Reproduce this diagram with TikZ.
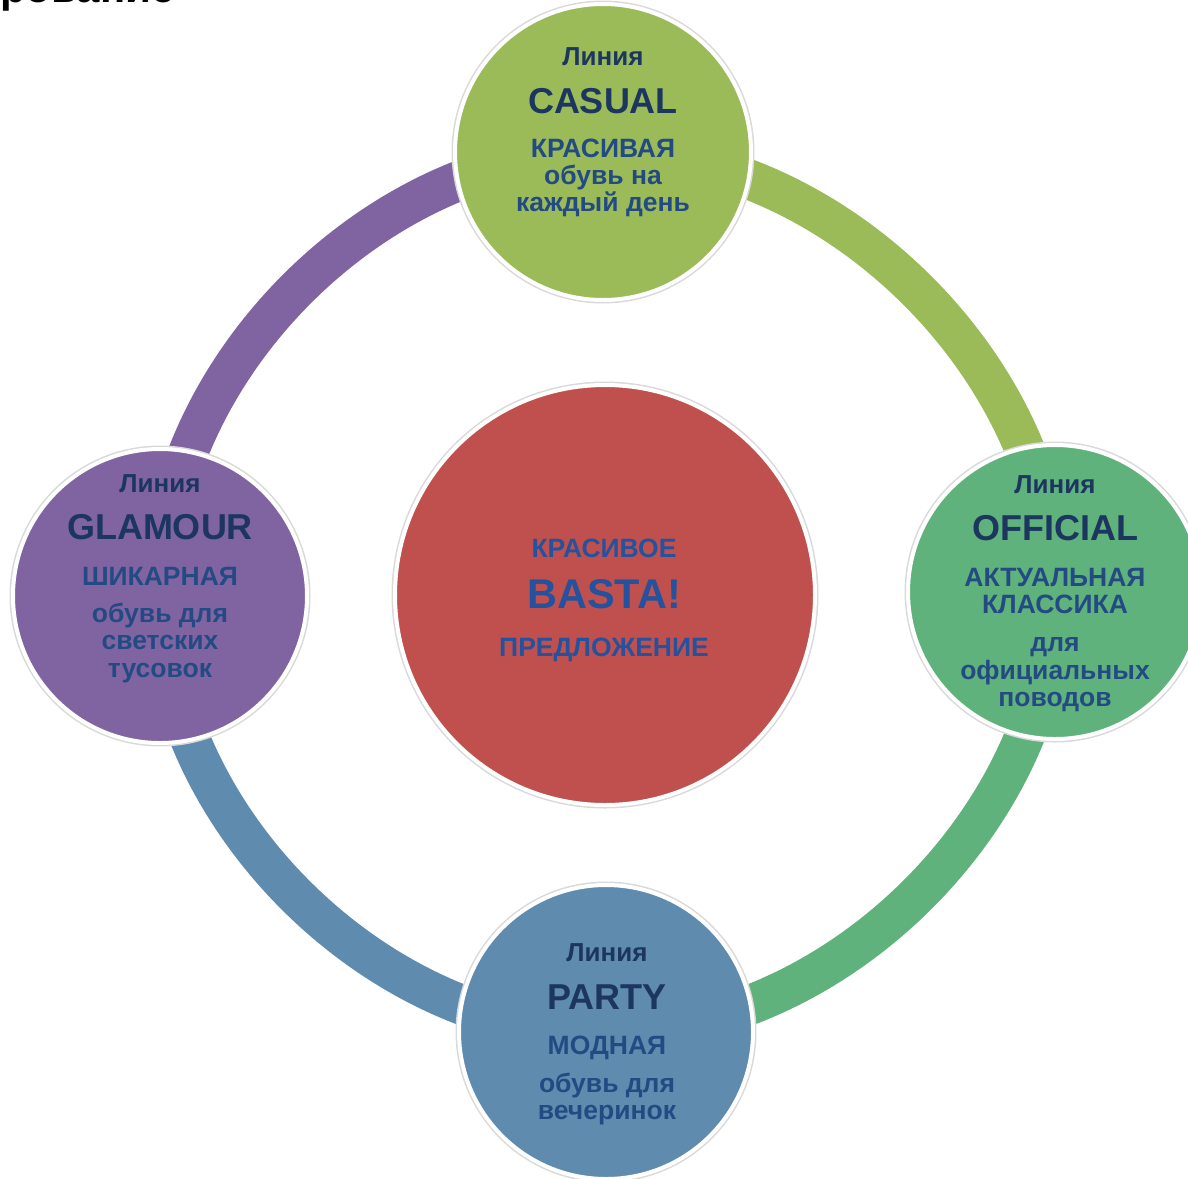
\documentclass[tikz,border=0pt]{standalone}
\usepackage{fontspec}
\setmainfont{Liberation Sans}
\usetikzlibrary{backgrounds}

\definecolor{casualgreen}{RGB}{155,187,89}
\definecolor{officialgreen}{RGB}{95,178,123}
\definecolor{partyblue}{RGB}{94,139,174}
\definecolor{glamourpurple}{RGB}{128,100,162}
\definecolor{bastared}{RGB}{192,80,77}
\definecolor{navy}{RGB}{28,54,96}
\definecolor{textblue}{RGB}{36,74,132}
\definecolor{centreblue}{RGB}{36,82,158}

\begin{document}
\begin{tikzpicture}[x=1pt, y=-1pt,
    blob/.style={circle, inner sep=0pt, draw=white, line width=4pt, preaction={draw=black!15, line width=7pt}},
    ring/.style={line width=40pt, bend left=45, looseness=0.92},
    word/.style={inner sep=0pt, anchor=base, text=textblue, font=\bfseries\fontsize{#1}{#1}\selectfont}]
				\useasboundingbox (0,0) rectangle (1188,1178);

				% Title
				\node[word=42, text=black, anchor=base west] (title) at (0,2) {рование};

				% Circles
				\node[blob, fill=casualgreen, minimum size=296pt] (casual) at (603,152) {};
				\node[blob, fill=officialgreen, minimum size=294pt] (official) at (1055,592) {};
				\node[blob, fill=partyblue, minimum size=294pt] (party) at (606,1032) {};
				\node[blob, fill=glamourpurple, minimum size=294pt] (glamour) at (160,596) {};
				\node[blob, fill=bastared, minimum size=420pt] (basta) at (605,595) {};

				% Ring
				\begin{pgfonlayer}{background}
				\draw[ring, casualgreen] (casual.center) to (official.center);
				\draw[ring, officialgreen] (official.center) to (party.center);
				\draw[ring, partyblue] (party.center) to (glamour.center);
				\draw[ring, glamourpurple] (glamour.center) to (casual.center);
				\end{pgfonlayer}

				% CASUAL
				\node[word=26, text=navy] (casual1) at (603,65) {Линия};
				\node[word=36, text=navy] (casual2) at (603,113) {CASUAL};
				\node[word=26.5] (casual3) at (603,157) {КРАСИВАЯ};
				\node[word=26.5] (casual4) at (603,184) {обувь на};
				\node[word=26.5] (casual5) at (603,211) {каждый день};

				% OFFICIAL
				\node[word=26, text=navy] (official1) at (1055,493) {Линия};
				\node[word=36, text=navy] (official2) at (1055,540) {OFFICIAL};
				\node[word=26.5] (official3) at (1055,586) {АКТУАЛЬНАЯ};
				\node[word=26.5] (official4) at (1055,613) {КЛАССИКА};
				\node[word=26.5] (official5) at (1055,651) {для};
				\node[word=26.5] (official6) at (1055,679) {официальных};
				\node[word=26.5] (official7) at (1055,706) {поводов};

				% GLAMOUR
				\node[word=26, text=navy] (glamour1) at (160,492) {Линия};
				\node[word=36, text=navy] (glamour2) at (160,539) {GLAMOUR};
				\node[word=26.5] (glamour3) at (160,585) {ШИКАРНАЯ};
				\node[word=26.5] (glamour4) at (160,622) {обувь для};
				\node[word=26.5] (glamour5) at (160,649) {светских};
				\node[word=26.5] (glamour6) at (160,677) {тусовок};

				% PARTY
				\node[word=26, text=navy] (party1) at (607,961) {Линия};
				\node[word=36, text=navy] (party2) at (607,1009) {PARTY};
				\node[word=26.5] (party3) at (607,1054) {МОДНАЯ};
				\node[word=26.5] (party4) at (607,1092) {обувь для};
				\node[word=26.5] (party5) at (607,1119) {вечеринок};

				% BASTA!
				\node[word=26.5, text=centreblue] (basta1) at (604,557) {КРАСИВОЕ};
				\node[word=41.5, text=centreblue] (basta2) at (604,608) {BASTA!};
				\node[word=26.5, text=centreblue] (basta3) at (604,656) {ПРЕДЛОЖЕНИЕ};
			\end{tikzpicture}
\end{document}
